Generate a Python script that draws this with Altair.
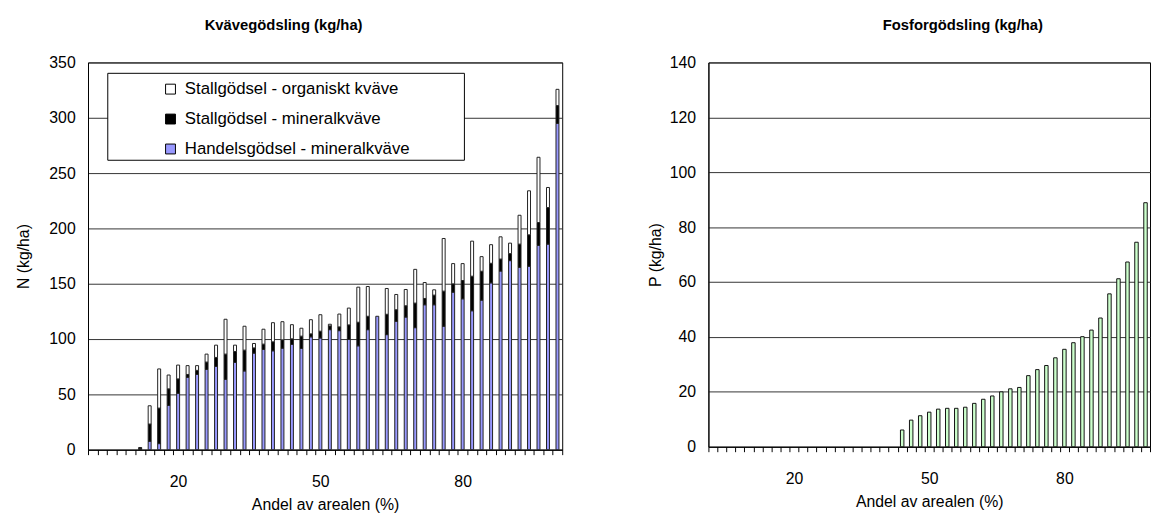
import altair as alt
import pandas as pd

# ---------------- data ----------------
pct = list(range(2, 101, 2))  # andel av arealen (%), 50 klasser

handels = [0, 0, 0, 0, 0, 0, 7.6, 5.5, 40, 51,
           65.5, 68, 72.6, 75.3, 63.6, 78.9, 71.2, 87.3, 90.6, 89.4,
           91.8, 95.1, 91.5, 102, 101, 108.5, 107.6, 99.6, 93.9, 108.5,
           120.6, 104, 116.1, 119.9, 110.3, 131, 131, 111.6, 142.4, 136.4,
           125.6, 135.2, 150.8, 161.5, 170.9, 164.9, 165.8, 184.6, 185.8, 294.9]

mineral = [0, 0, 0, 0, 0, 1.5, 15.6, 32.1, 15, 13,
           2.5, 3.7, 6.6, 8.1, 22.8, 9.9, 18.8, 4.7, 4.8, 8.1,
           7.5, 5.1, 11.1, 2.7, 6.1, 3.4, 3.4, 13.2, 21.3, 12.1,
           0, 18.4, 10.4, 10.2, 22.2, 5.7, 8.7, 31.7, 7.5, 16.5,
           31.2, 26.1, 17.7, 10.8, 6.3, 20.9, 28.4, 20.7, 33, 16.1]

organic = [0, 0, 0, 0, 0, 0.5, 16.5, 35.4, 12.5, 12.5,
           8, 4.3, 7.2, 11.1, 31.5, 5.7, 21.6, 4, 13.5, 17.3,
           16.4, 12.8, 7.2, 12.8, 14.9, 1.5, 11.6, 15.2, 31.7, 26.9,
           0, 23.3, 13.8, 14.7, 30.5, 14.4, 4.8, 47.6, 18.3, 15.3,
           31.7, 13.2, 16.8, 20.1, 9.5, 26.1, 39.8, 59, 18.2, 14.7]

# only the first 49 classes are visible in the phosphorus panel
fosfor_pct = pct[:49]
fosfor = [0, 0, 0, 0, 0, 0, 0, 0, 0, 0,
          0, 0, 0, 0, 0, 0, 0, 0, 0, 0,
          0, 6.1, 9.7, 11.3, 12.6, 13.7, 14, 14, 14.4, 15.8,
          17.3, 18.5, 20, 21.1, 21.6, 25.9, 28.1, 29.6, 32.4, 35.5,
          37.9, 40.1, 42.5, 46.9, 55.7, 61.2, 67.3, 74.5, 88.9]

series_names = ["Stallgödsel - organiskt kväve",
                "Stallgödsel - mineralkväve",
                "Handelsgödsel - mineralkväve"]
series_colors = ["#FFFFFF", "#000000", "#9999FF"]
tick_labels = [20, 50, 80]

FONT = "Liberation Sans"

# ---------------- tables ----------------
rows = []
for p, h, m, o in zip(pct, handels, mineral, organic):
    rows.append({"pct": p, "serie": series_names[2], "value": h, "ordning": 0})
    rows.append({"pct": p, "serie": series_names[1], "value": m, "ordning": 1})
    rows.append({"pct": p, "serie": series_names[0], "value": o, "ordning": 2})
df_n = pd.DataFrame(rows)
df_n = df_n[df_n["value"] > 0]

df_p = pd.DataFrame({"pct": fosfor_pct, "value": fosfor})
df_p = df_p[df_p["value"] > 0]

label_expr = "(" + " || ".join(f"datum.value == {t}" for t in tick_labels) + ") ? datum.label : ''"


def x_axis():
    return alt.Axis(title="Andel av arealen (%)", labelExpr=label_expr, labelAngle=0,
                    tickBand="extent", tickSize=5, labelPadding=19, titlePadding=8,
                    grid=False, domain=True)


# ---------------- left panel ----------------
n_bars = alt.Chart(df_n).mark_bar(size=3, stroke="#222222", strokeWidth=1).encode(
    x=alt.X("pct:O", scale=alt.Scale(domain=pct, paddingInner=0, paddingOuter=0), axis=x_axis()),
    y=alt.Y("value:Q", stack="zero",
            scale=alt.Scale(domain=[0, 350], nice=False),
            axis=alt.Axis(title="N (kg/ha)", values=list(range(0, 351, 50)), ticks=False,
                          labelPadding=13, titlePadding=18, grid=True)),
    color=alt.Color("serie:N",
                    scale=alt.Scale(domain=series_names, range=series_colors),
                    legend=alt.Legend(orient="none", legendX=75, legendY=18.5, title=None,
                                      padding=0, symbolType="square", symbolSize=100,
                                      symbolStrokeColor="black", symbolStrokeWidth=1,
                                      labelFontSize=17, labelFont=FONT, labelColor="black",
                                      labelOffset=6, rowPadding=12.3, labelLimit=400)),
    order=alt.Order("ordning:Q"),
)

legend_box = alt.Chart(pd.DataFrame({"k": [0]})).mark_rect(
    fill="white", stroke="black", strokeWidth=1).encode(
    x=alt.value(20), x2=alt.value(381), y=alt.value(11), y2=alt.value(99))

left = alt.layer(legend_box, n_bars).properties(
    width=480, height=392,
    title=alt.TitleParams("Kvävegödsling (kg/ha)", dx=-42))

# ---------------- right panel ----------------
right = alt.Chart(df_p).mark_bar(size=3.5, color="#CCFFCC", stroke="#111111", strokeWidth=1).encode(
    x=alt.X("pct:O", scale=alt.Scale(domain=fosfor_pct, paddingInner=0, paddingOuter=0), axis=x_axis()),
    y=alt.Y("value:Q", scale=alt.Scale(domain=[0, 140], nice=False),
            axis=alt.Axis(title="P (kg/ha)", values=list(range(0, 141, 20)), ticks=False,
                          labelPadding=13, titlePadding=6, grid=True)),
).properties(width=447, height=389,
             title=alt.TitleParams("Fosforgödsling (kg/ha)", dx=34))

chart = alt.hconcat(left, right, spacing=84).properties(
    padding={"left": 6, "top": 6, "right": 0, "bottom": 0}
).configure_view(
    stroke="black", strokeWidth=1
).configure_axis(
    labelFont=FONT, titleFont=FONT, labelFontSize=16, titleFontSize=16,
    titleFontWeight="normal", labelColor="black", titleColor="black",
    domainColor="black", tickColor="black", gridColor="#333333", gridWidth=1,
).configure_title(
    font=FONT, fontSize=15, fontWeight="bold", color="black", offset=22, anchor="middle"
)

chart.save("out.html", embed_options={"renderer": "svg", "actions": False})
